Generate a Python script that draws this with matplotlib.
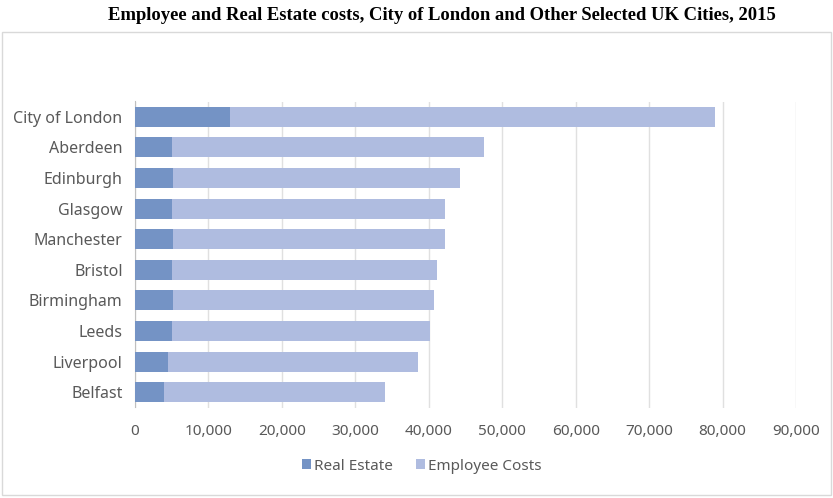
import matplotlib
matplotlib.use("Agg")
import matplotlib.pyplot as plt
from matplotlib.patches import Rectangle
from matplotlib.ticker import FuncFormatter

cities = ["City of London", "Aberdeen", "Edinburgh", "Glasgow", "Manchester",
          "Bristol", "Birmingham", "Leeds", "Liverpool", "Belfast"]
real_estate = [13000, 5000, 5200, 5100, 5200, 5100, 5200, 5000, 4500, 3950]
employee_costs = [66000, 42500, 39000, 37100, 37000, 36000, 35500, 35100, 34100, 30150]
x_ticks = [0, 10000, 20000, 30000, 40000, 50000, 60000, 70000, 80000, 90000]

title = "Employee and Real Estate costs, City of London and Other Selected UK Cities, 2015"

plt.rcParams['font.family'] = ['Noto Sans', 'DejaVu Sans']

fig = plt.figure(figsize=(8.33, 4.98), dpi=100)
W, H = 833, 498
fig.patches.append(Rectangle((2 / W, 1 - 495 / H), 829 / W, 463 / H,
                             transform=fig.transFigure, fill=False,
                             edgecolor='#d9d9d9', linewidth=1.0))
fig.text(442 / W, 1 - 15 / H, title, ha='center', va='center',
         fontfamily='Liberation Serif', fontweight='bold', fontsize=13.4)

ax = fig.add_axes([135 / W, 1 - 407.5 / H, (796 - 135) / W, (407.5 - 101.5) / H])
y = list(range(len(cities)))
c_re = '#7493c5'
c_emp = '#afbce0'
ax.barh(y, real_estate, height=0.66, color=c_re, label='Real Estate', zorder=3)
ax.barh(y, employee_costs, left=real_estate, height=0.66, color=c_emp,
        label='Employee Costs', zorder=3)
ax.set_ylim(len(cities) - 0.5, -0.5)
ax.set_xlim(0, 90000)
ax.set_xticks(x_ticks)
ax.xaxis.set_major_formatter(FuncFormatter(lambda v, p: f"{int(v):,}"))
ax.set_yticks(y)
ax.set_yticklabels(cities)
for s in ['top', 'right', 'bottom']:
    ax.spines[s].set_visible(False)
ax.spines['left'].set_color('#bfbfbf')
ax.grid(axis='x', color='#e0e0e0', linewidth=1.0, zorder=0)
ax.tick_params(axis='both', length=0, colors='#595959')
ax.tick_params(axis='x', pad=12, labelsize=11)
ax.tick_params(axis='y', pad=9, labelsize=11.5)

leg = fig.legend(loc='center', bbox_to_anchor=(422 / W, 1 - 466 / H), ncol=2,
                 frameon=False, fontsize=11, handlelength=0.6, handleheight=0.6,
                 handletextpad=0.2, columnspacing=1.5)
for t in leg.get_texts():
    t.set_color('#595959')

fig.savefig('out.png', dpi=100)
